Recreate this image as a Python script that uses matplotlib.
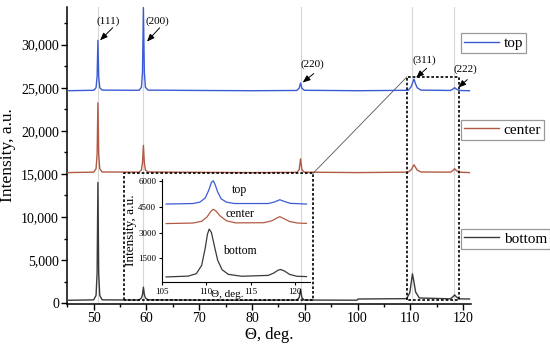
import matplotlib
matplotlib.use("Agg")
import matplotlib.pyplot as plt
from matplotlib.ticker import MultipleLocator, FuncFormatter

plt.rcParams['font.family'] = ['Liberation Serif', 'DejaVu Serif']
plt.rcParams['mathtext.fontset'] = 'stix'

# ---------------- data ----------------
series_names = ["top", "center", "bottom"]
series_colors = ["#3b5bd6", "#b25a43", "#3a3a3a"]

top_x = [45, 50.0, 50.45, 50.65, 50.8, 50.95, 51.15, 51.6, 58.6, 59.05, 59.25, 59.42, 59.6, 59.8, 60.3,
         70, 80, 88.5, 88.95, 89.2, 89.45, 89.9, 100, 109.6, 110.2, 110.5, 110.7, 110.95, 111.3, 112.0,
         117.6, 118.1, 118.4, 118.7, 119.2, 121.2]
top_y = [24650, 24700, 25000, 26300, 30500, 26300, 25000, 24720, 24700, 25050, 26800, 34300, 26800, 25050, 24720,
         24680, 24650, 24680, 24950, 25550, 24950, 24700, 24650, 24700, 25150, 25700, 26000, 25500, 25000, 24720,
         24680, 24850, 25000, 24850, 24680, 24650]

cen_x = top_x
cen_y = [15150, 15200, 15600, 17300, 23250, 17300, 15600, 15220, 15200, 15450, 16300, 18300, 16300, 15450, 15220,
         15180, 15150, 15180, 15500, 16750, 15500, 15200, 15150, 15200, 15500, 15850, 16050, 15800, 15450, 15220,
         15200, 15400, 15600, 15400, 15200, 15150]

bot_x = [45, 50.0, 50.45, 50.65, 50.8, 50.95, 51.15, 51.6, 58.6, 59.05, 59.25, 59.42, 59.6, 59.8, 60.3,
         70, 80, 88.5, 88.95, 89.2, 89.45, 89.9, 99.9, 100.1, 109.3, 109.9, 110.2, 110.4, 110.65, 111.0, 111.7,
         117.6, 118.1, 118.4, 118.7, 119.2, 121.2]
bot_y = [330, 380, 900, 3500, 14000, 3500, 900, 380, 360, 600, 1000, 1850, 1000, 600, 380,
         350, 340, 360, 650, 1600, 650, 360, 340, 480, 520, 1200, 2500, 3400, 2600, 1300, 600,
         500, 750, 950, 750, 500, 480]

# inset (105-121 deg region)
in_top_x = [105.5, 108.5, 109.3, 109.9, 110.3, 110.6, 110.8, 111.0, 111.3, 111.7, 112.3, 113.2, 117.0, 117.7, 118.3, 118.8, 119.5, 121.3]
in_top_y = [4650, 4680, 4760, 5000, 5450, 5900, 6000, 5800, 5350, 4950, 4760, 4680, 4680, 4770, 4900, 4800, 4690, 4650]
in_cen_x = [105.5, 108.5, 109.5, 110.1, 110.5, 110.8, 111.1, 111.6, 112.3, 113.3, 116.5, 117.4, 118.0, 118.3, 118.7, 119.4, 120.3, 121.3]
in_cen_y = [3520, 3550, 3650, 3900, 4200, 4350, 4250, 3950, 3680, 3560, 3570, 3680, 3850, 3920, 3820, 3640, 3550, 3530]
in_bot_x = [105.5, 108.0, 108.9, 109.5, 109.9, 110.15, 110.35, 110.6, 110.9, 111.3, 111.8, 112.5, 114.0, 117.0, 117.6, 118.1, 118.4, 118.8, 119.4, 120.2, 121.3]
in_bot_y = [430, 480, 620, 1100, 2100, 2900, 3200, 3000, 2300, 1400, 850, 580, 470, 520, 650, 820, 860, 780, 580, 470, 450]

peak_positions = [50.8, 59.4, 89.2, 110.3, 118.3]
peak_labels = ["(111)", "(200)", "(220)", "(311)", "(222)"]
label_xy = [(52.8, 32700), (62.1, 32700), (91.4, 27700), (112.7, 28200), (120.45, 27100)]
arrow_tail = [(53.6, 31950), (62.5, 31950), (91.7, 26640), (113.1, 27250), (120.8, 25940)]
arrow_head = [(51.2, 30500), (60.1, 30350), (89.6, 25600), (111.1, 26140), (119.1, 25020)]

y_ticks = [0, 5000, 10000, 15000, 20000, 25000, 30000]
x_ticks = [50, 60, 70, 80, 90, 100, 110, 120]
inset_yticks = [1500, 3000, 4500, 6000]
inset_xticks = [105, 110, 115, 120]

zoom_box = (109.35, 119.25, 350, 26250)      # x0, x1, y0, y1
inset_box = (55.8, 91.6, 350, 15080)

# ---------------- figure ----------------
fig = plt.figure(figsize=(5.5, 3.49), dpi=100)
ax = fig.add_axes([67.3 / 550, 1 - 304 / 349, (471 - 67.3) / 550, (304 - 6.7) / 349])

for p in peak_positions:
    ax.axvline(p, color="#d6d6d6", lw=0.8, zorder=0)

lines = []
for xs, ys, c in zip([top_x, cen_x, bot_x], [top_y, cen_y, bot_y], series_colors):
    ln, = ax.plot(xs, ys, color=c, lw=1.0, zorder=3)
    lines.append(ln)

ax.set_xlim(45, 121.5)
ax.set_ylim(-100, 34400)
ax.set_xticks(x_ticks)
ax.set_yticks(y_ticks)
ax.xaxis.set_minor_locator(MultipleLocator(5))
ax.yaxis.set_minor_locator(MultipleLocator(2500))
ax.yaxis.set_major_formatter(FuncFormatter(lambda v, p: f"{v:,.0f}"))
ax.tick_params(axis="both", which="major", direction="out", length=4, width=1, labelsize=10, pad=2)
ax.tick_params(axis="both", which="minor", direction="out", length=2.5, width=1)
for s in ["top", "right"]:
    ax.spines[s].set_visible(False)
for s in ["left", "bottom"]:
    ax.spines[s].set_linewidth(1.1)
ax.set_xlabel("Θ, deg.", fontsize=12, labelpad=1)
ax.set_ylabel("Intensity, a.u.", fontsize=12.5, labelpad=4)

# dotted boxes
for (x0, x1, y0, y1) in [zoom_box, inset_box]:
    ax.plot([x0, x0, x1, x1, x0], [y0, y1, y1, y0, y0], ls=(0, (1.6, 1.2)), color="black", lw=1.2, zorder=4)
ax.plot([inset_box[1], zoom_box[0]], [inset_box[3], zoom_box[3]], color="#555555", lw=0.6, zorder=4)

# peak annotations
for lab, lxy, t, h in zip(peak_labels, label_xy, arrow_tail, arrow_head):
    ax.text(lxy[0], lxy[1], lab, fontsize=8, ha="center", va="center", zorder=6)
    ax.annotate("", xy=h, xytext=t,
                arrowprops=dict(arrowstyle="-|>,head_length=0.45,head_width=0.18", color="black", lw=0.7,
                                shrinkA=0, shrinkB=0),
                zorder=6)

# separate legends
legend_tops = [33.3, 120, 229]
for ln, name, ytop in zip(lines, series_names, legend_tops):
    leg = fig.legend([ln], [name], loc="upper left", bbox_to_anchor=(461 / 550, 1 - ytop / 349),
                     bbox_transform=fig.transFigure, fontsize=11, frameon=True, fancybox=False,
                     borderpad=0.2, handlelength=2.3, handletextpad=0.3, borderaxespad=0)
    leg.get_frame().set_edgecolor("#808080")
    leg.get_frame().set_linewidth(0.9)

# inset
ax2 = fig.add_axes([161.7 / 550, 1 - 282.3 / 349, (310 - 161.7) / 550, (282.3 - 179) / 349])
ax2.patch.set_alpha(0)
for xs, ys, c in zip([in_top_x, in_cen_x, in_bot_x], [in_top_y, in_cen_y, in_bot_y], series_colors):
    ax2.plot(xs, ys, color=c, lw=0.9)
ax2.set_xlim(105, 121.7)
ax2.set_ylim(120, 6100)
ax2.set_xticks(inset_xticks)
ax2.set_yticks(inset_yticks)
ax2.tick_params(axis="both", direction="out", length=2.5, width=0.8, labelsize=6.5, pad=1.5)
for s in ["top", "right"]:
    ax2.spines[s].set_visible(False)
for s in ["left", "bottom"]:
    ax2.spines[s].set_linewidth(0.8)
ax2.set_xlabel("Θ, deg.", fontsize=8, va="center")
ax2.xaxis.set_label_coords(0.445, -0.118)
ax2.set_ylabel("Intensity, a.u.", fontsize=9.5, labelpad=1)
ax2.text(113.8, 5450, "top", fontsize=8.5, ha="center", va="center")
ax2.text(113.8, 4100, "center", fontsize=8.5, ha="center", va="center")
ax2.text(113.8, 1950, "bottom", fontsize=8.5, ha="center", va="center")

fig.savefig("out.png", dpi=100)
